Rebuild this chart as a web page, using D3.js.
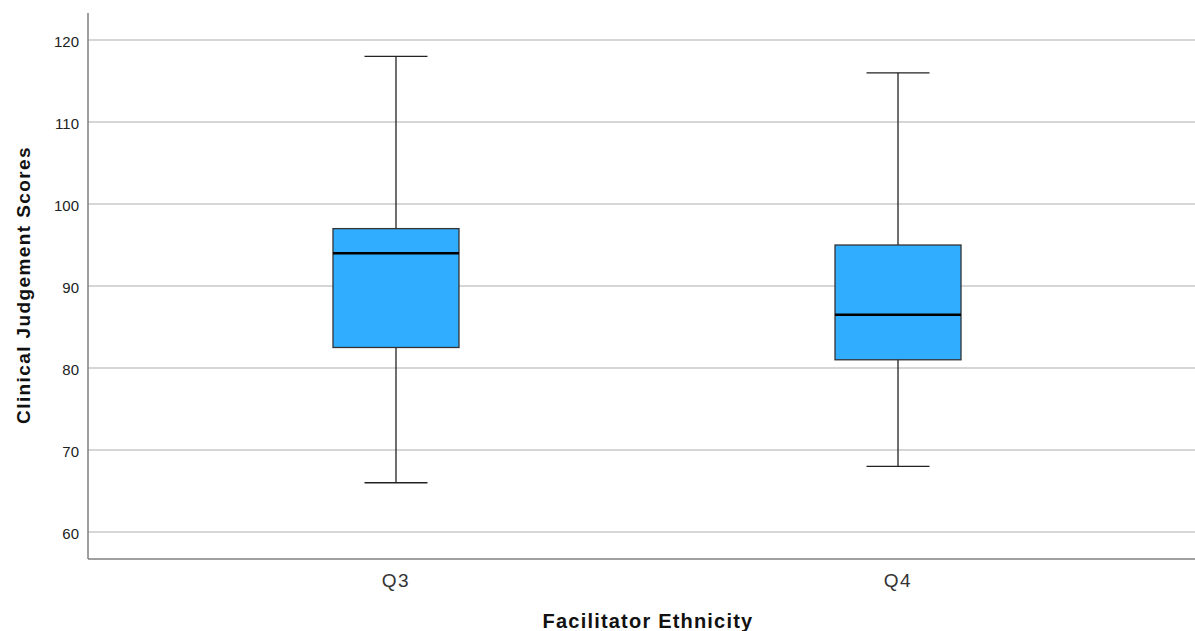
<!DOCTYPE html>
<html>
<head>
<meta charset="utf-8">
<script src="https://cdn.jsdelivr.net/npm/d3@7"></script>
<style>
  html, body { margin: 0; padding: 0; background: #fff; }
  svg { display: block; font-family: Arial, "Liberation Sans", sans-serif; }
</style>
</head>
<body>
<svg id="chart" width="1195" height="631"></svg>
<script>
// ---- data ----
const categories = ["Q3", "Q4"];
const whiskerLow  = [66, 68];
const q1Values    = [82.5, 81];
const medianValues= [94, 86.5];
const q3Values    = [97, 95];
const whiskerHigh = [118, 116];
const yTicks = [60, 70, 80, 90, 100, 110, 120];
const xTitle = "Facilitator Ethnicity";
const yTitle = "Clinical Judgement Scores";

// ---- layout ----
const W = 1195, H = 631;
const mLeft = 88, mRight = 1206, mTop = 13, mBottom = 559;
const FONT = "Arial, 'Liberation Sans', sans-serif";

const svg = d3.select("#chart");

const y = d3.scaleLinear().domain([56.7, 123.3]).range([mBottom, mTop]);
const x = d3.scaleBand().domain(categories).range([mLeft, mRight]).paddingInner(0).paddingOuter(0.1135);
const boxW = 126, capW = 63;

// grid lines
svg.append("g").selectAll("line").data(yTicks).join("line")
  .attr("x1", mLeft).attr("x2", W)
  .attr("y1", d => y(d)).attr("y2", d => y(d))
  .attr("stroke", "#c8c8c8").attr("stroke-width", 1.5);

// y axis
const yAxis = svg.append("g").attr("transform", `translate(${mLeft},0)`)
  .call(d3.axisLeft(y).tickValues(yTicks).tickSize(0).tickPadding(9));
yAxis.select(".domain").remove();
yAxis.selectAll("text").attr("font-size", 15).attr("fill", "#222")
  .attr("dy", "0.46em").attr("font-family", FONT);

// axis lines
svg.append("line").attr("x1", mLeft).attr("x2", mLeft).attr("y1", mTop).attr("y2", mBottom)
  .attr("stroke", "#7f7f7f").attr("stroke-width", 1.5);
svg.append("line").attr("x1", mLeft).attr("x2", W).attr("y1", mBottom).attr("y2", mBottom)
  .attr("stroke", "#7f7f7f").attr("stroke-width", 1.5);

// x axis labels
const xAxis = svg.append("g").attr("transform", `translate(0,${mBottom})`)
  .call(d3.axisBottom(x).tickSize(0).tickPadding(0));
xAxis.select(".domain").remove();
xAxis.selectAll("text").attr("font-size", 19).attr("fill", "#333")
  .attr("letter-spacing", 1.5).attr("dy", "1.45em").attr("font-family", FONT);

// boxes
const boxes = svg.append("g").selectAll("g").data(categories).join("g");
boxes.each(function(c, i) {
  const g = d3.select(this);
  const cx = x(c) + x.bandwidth() / 2;
  // whiskers
  g.append("line").attr("x1", cx).attr("x2", cx)
    .attr("y1", y(whiskerHigh[i])).attr("y2", y(q3Values[i]))
    .attr("stroke", "#222").attr("stroke-width", 1.3);
  g.append("line").attr("x1", cx).attr("x2", cx)
    .attr("y1", y(q1Values[i])).attr("y2", y(whiskerLow[i]))
    .attr("stroke", "#222").attr("stroke-width", 1.3);
  g.append("line").attr("x1", cx - capW / 2).attr("x2", cx + capW / 2)
    .attr("y1", y(whiskerHigh[i])).attr("y2", y(whiskerHigh[i]))
    .attr("stroke", "#222").attr("stroke-width", 1.3);
  g.append("line").attr("x1", cx - capW / 2).attr("x2", cx + capW / 2)
    .attr("y1", y(whiskerLow[i])).attr("y2", y(whiskerLow[i]))
    .attr("stroke", "#222").attr("stroke-width", 1.3);
  // box
  g.append("rect").attr("x", cx - boxW / 2).attr("width", boxW)
    .attr("y", y(q3Values[i])).attr("height", y(q1Values[i]) - y(q3Values[i]))
    .attr("fill", "#31adff").attr("stroke", "#333").attr("stroke-width", 1.3);
  // median
  g.append("line").attr("x1", cx - boxW / 2).attr("x2", cx + boxW / 2)
    .attr("y1", y(medianValues[i])).attr("y2", y(medianValues[i]))
    .attr("stroke", "#000").attr("stroke-width", 2.5);
});

// titles
svg.append("text").attr("x", 648).attr("y", 628)
  .attr("text-anchor", "middle").attr("font-size", 20).attr("font-weight", "bold")
  .attr("letter-spacing", 1.2).attr("fill", "#111").attr("font-family", FONT).text(xTitle);
svg.append("text").attr("transform", `translate(30,285) rotate(-90)`)
  .attr("text-anchor", "middle").attr("font-size", 19).attr("font-weight", "bold")
  .attr("letter-spacing", 1.4).attr("fill", "#111").attr("font-family", FONT).text(yTitle);
</script>
</body>
</html>
